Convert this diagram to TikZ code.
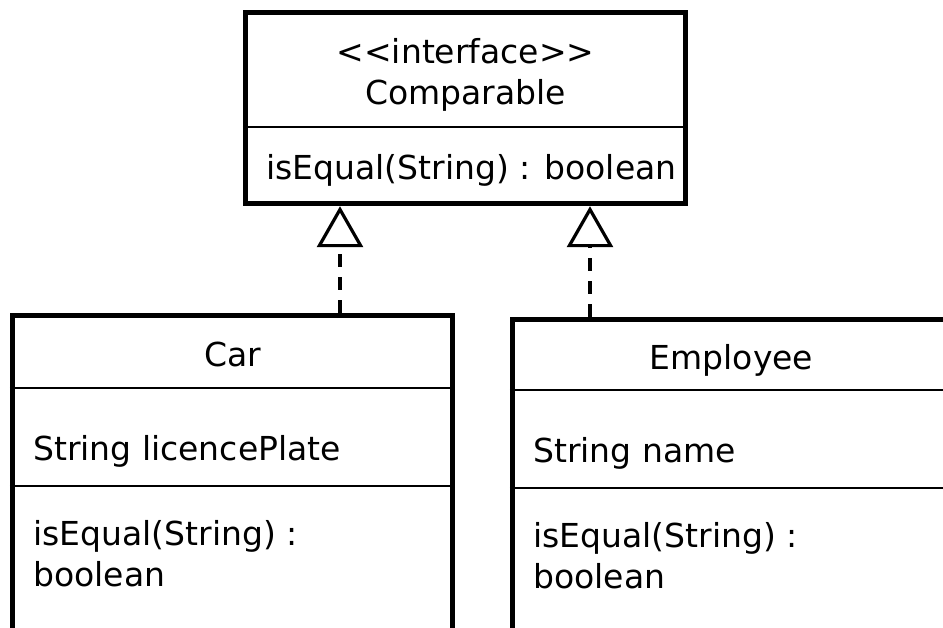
\documentclass[tikz,border=0pt]{standalone}
\usepackage{fontspec}
\newfontfamily\umlfont{DejaVu Sans}
\usetikzlibrary{arrows.meta}

\begin{document}
\begin{tikzpicture}[x=1pt, y=-1pt,
        classbox/.style={draw, rectangle, line width=5.5pt, inner sep=0pt},
        divider/.style={line width=1.2pt},
        member/.style={inner sep=0pt, font=\umlfont\fontsize{33}{41}\selectfont},
        realize/.style={line width=3.2pt, dash pattern=on 13pt off 10pt,
            -{Triangle[open, length=41pt, width=46pt]}}]

        \useasboundingbox (0,0) rectangle (943,628);
        \clip (0,0) rectangle (943,628);

        % the interface
        \node[classbox, minimum width=440pt, minimum height=191pt]
            (comparable) at (465.5,108) {};
        \draw[divider]
            (comparable.west |- 0,127) -- (comparable.east |- 0,127);
        \node[member, align=center, anchor=base]
            (cmpname) at (465.5,105) {<<interface>>\\Comparable};
        \node[member, anchor=base west]
            (cmpop) at (266,180) {isEqual(String) : boolean};

        % the two classes
        \node[classbox, minimum width=440pt, minimum height=500pt]
            (car) at (232.5,565.5) {};
        \draw[divider]
            (car.west |- 0,388) -- (car.east |- 0,388)
            (car.west |- 0,486) -- (car.east |- 0,486);
        \node[member, anchor=base] (carname) at (232.5,367) {Car};
        \node[member, anchor=base west] (carattr) at (33,460) {String licencePlate};
        \node[member, anchor=base west, align=left]
            (carop) at (33,586) {isEqual(String) :\\boolean};

        \node[classbox, minimum width=438pt, minimum height=500pt]
            (employee) at (731.5,569.5) {};
        \draw[divider]
            (employee.west |- 0,390) -- (employee.east |- 0,390)
            (employee.west |- 0,488) -- (employee.east |- 0,488);
        \node[member, anchor=base] (empname) at (731.5,370) {Employee};
        \node[member, anchor=base west] (empattr) at (533,462) {String name};
        \node[member, anchor=base west, align=left]
            (empop) at (533,588) {isEqual(String) :\\boolean};

        % realizations
        \coordinate (carlink) at (340,0);
        \coordinate (emplink) at (590,0);
        \draw[realize]
            (car.north -| carlink) -- (comparable.south -| carlink);
        \draw[realize]
            (employee.north -| emplink) -- (comparable.south -| emplink);

    \end{tikzpicture}
\end{document}
